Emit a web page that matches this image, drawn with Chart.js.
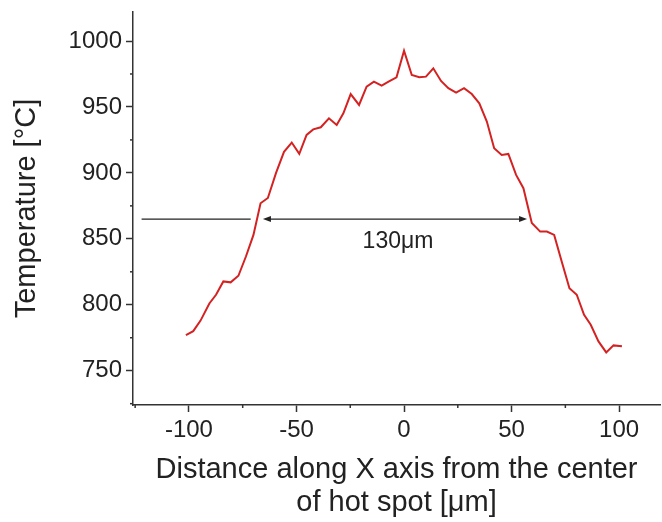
<!DOCTYPE html>
<html>
<head>
<meta charset="utf-8">
<script src="https://cdn.jsdelivr.net/npm/chart.js@4/dist/chart.umd.min.js"></script>
<style>
  html, body { margin: 0; padding: 0; background: #fff; }
  #wrap { width: 662px; height: 522px; }
</style>
</head>
<body>
<div id="wrap"><canvas id="profile"></canvas></div>
<script>
// temperature profile across the hot spot
const distance = [-101.4, -98, -94.6, -90.5, -87.4, -84, -80.6, -77, -73.5, -70,
  -66.7, -63.3, -59.5, -55.8, -52.2, -48.7, -45.3, -42.2, -38.7, -34.9,
  -31.3, -28.2, -24.8, -20.9, -17.4, -14, -10.4, -7.2, -3.5, 0,
  3.6, 7.1, 10.2, 13.6, 17.2, 20.6, 24.2, 27.9, 31.5, 35,
  38.5, 41.9, 45.4, 48.5, 52.1, 55.5, 59.4, 63.3, 66.4, 69.8,
  73.3, 76.9, 80.3, 83.7, 86.8, 90.4, 94, 97.4, 101.3];
const temperature = [777, 780, 788, 801, 807.6, 817.7, 817, 822, 836.6, 853,
  877, 881, 900, 916, 923, 914.4, 928.8, 933, 934.6, 941.4,
  936.4, 945.2, 959.8, 951.5, 965.4, 969.2, 966.2, 969.2, 972.5, 992.7,
  974.2, 972.5, 973, 979.3, 969.7, 964.2, 960.9, 964.2, 959.8, 952.8,
  938.9, 918.7, 913.6, 914.4, 898.5, 888.4, 862, 855.5, 855.5, 853,
  832.8, 812.6, 807.6, 792.4, 784.8, 772.2, 763.9, 769.2, 768.5];

// ticks: labelled every 50, small marks every 25
const xTicks = [-125, -100, -75, -50, -25, 0, 25, 50, 75, 100];
const yTicks = [725, 750, 775, 800, 825, 850, 875, 900, 925, 950, 975, 1000];

// width marker: plain line up to the curve, then a double arrow
const spanLevel = 865;
const spanLine = [-122, -71.3];
const spanArrow = [-65.6, 57.2];
const spanLabel = '130μm';
const spanLabelAt = [-2.8, 847.7];

const ink = '#222';
const axisInk = '#333';
const isMajor = v => v % 50 === 0;

const minorTicks = {
  id: 'minorTicks',
  afterDraw(chart) {
    const ctx = chart.ctx;
    const xs = chart.scales.x, ys = chart.scales.y;
    ctx.save();
    ctx.strokeStyle = axisInk;
    ctx.lineWidth = 1.5;
    xs.ticks.forEach(t => {
      if (isMajor(t.value)) return;
      const px = xs.getPixelForValue(t.value);
      ctx.beginPath();
      ctx.moveTo(px, xs.top);
      ctx.lineTo(px, xs.top + 3);
      ctx.stroke();
    });
    ys.ticks.forEach(t => {
      if (isMajor(t.value)) return;
      const py = ys.getPixelForValue(t.value);
      ctx.beginPath();
      ctx.moveTo(ys.right, py);
      ctx.lineTo(ys.right - 3, py);
      ctx.stroke();
    });
    ctx.restore();
  }
};

const widthMarker = {
  id: 'widthMarker',
  afterDatasetsDraw(chart) {
    const ctx = chart.ctx;
    const xs = chart.scales.x, ys = chart.scales.y;
    const py = ys.getPixelForValue(spanLevel);
    ctx.save();
    ctx.strokeStyle = ink;
    ctx.fillStyle = ink;
    ctx.lineWidth = 1.3;
    ctx.beginPath();
    ctx.moveTo(xs.getPixelForValue(spanLine[0]), py);
    ctx.lineTo(xs.getPixelForValue(spanLine[1]), py);
    ctx.stroke();

    const a = xs.getPixelForValue(spanArrow[0]);
    const b = xs.getPixelForValue(spanArrow[1]);
    ctx.beginPath();
    ctx.moveTo(a + 6, py);
    ctx.lineTo(b - 6, py);
    ctx.stroke();
    // arrow heads
    ctx.beginPath();
    ctx.moveTo(a, py);
    ctx.lineTo(a + 8, py - 3);
    ctx.lineTo(a + 8, py + 3);
    ctx.closePath();
    ctx.fill();
    ctx.beginPath();
    ctx.moveTo(b, py);
    ctx.lineTo(b - 8, py - 3);
    ctx.lineTo(b - 8, py + 3);
    ctx.closePath();
    ctx.fill();

    ctx.font = '23px "Liberation Sans", Arial, sans-serif';
    ctx.textAlign = 'center';
    ctx.textBaseline = 'middle';
    ctx.fillText(spanLabel, xs.getPixelForValue(spanLabelAt[0]), ys.getPixelForValue(spanLabelAt[1]));
    ctx.restore();
  }
};

const ctx = document.getElementById('profile').getContext('2d');
new Chart(ctx, {
  type: 'line',
  data: {
    datasets: [{
      data: distance.map((d, i) => ({ x: d, y: temperature[i] })),
      borderColor: '#d42222',
      borderWidth: 2,
      pointRadius: 0,
      tension: 0,
      fill: false
    }]
  },
  options: {
    responsive: true,
    maintainAspectRatio: false,
    animation: false,
    layout: { padding: { top: 12, right: 2, left: 0, bottom: 0 } },
    plugins: {
      legend: { display: false },
      tooltip: { enabled: false }
    },
    scales: {
      x: {
        type: 'linear',
        min: -126,
        max: 119,
        afterBuildTicks: s => { s.ticks = xTicks.filter(v => v >= s.min && v <= s.max).map(v => ({ value: v })); },
        afterFit: s => { s.height = 117; s.paddingLeft = 0; s.paddingRight = 0; },
        border: { display: true, color: axisInk, width: 1.5 },
        grid: {
          drawOnChartArea: false,
          tickLength: 7,
          tickWidth: 1.5,
          tickColor: c => (c.tick && isMajor(c.tick.value)) ? axisInk : 'rgba(0,0,0,0)'
        },
        ticks: {
          color: ink,
          padding: 4,
          maxRotation: 0,
          autoSkip: false,
          font: { family: '"Liberation Sans", Arial, sans-serif', size: 24 },
          callback: v => isMajor(v) ? String(v) : ''
        },
        title: {
          display: true,
          text: ['Distance along X axis from the center', 'of hot spot [μm]'],
          color: ink,
          font: { family: '"Liberation Sans", Arial, sans-serif', size: 29, lineHeight: 1.14 },
          padding: { top: 0, bottom: 2.5 }
        }
      },
      y: {
        min: 724,
        max: 1022,
        afterBuildTicks: s => { s.ticks = yTicks.map(v => ({ value: v })); },
        afterFit: s => { s.width = 133; s.paddingTop = 0; s.paddingBottom = 0; },
        border: { display: true, color: axisInk, width: 1.5 },
        grid: {
          drawOnChartArea: false,
          tickLength: 7,
          tickWidth: 1.5,
          tickColor: c => (c.tick && isMajor(c.tick.value)) ? axisInk : 'rgba(0,0,0,0)'
        },
        ticks: {
          color: ink,
          padding: 4,
          autoSkip: false,
          font: { family: '"Liberation Sans", Arial, sans-serif', size: 24 },
          callback: v => isMajor(v) ? String(v) : ''
        },
        title: {
          display: true,
          text: 'Temperature [°C]',
          color: ink,
          font: { family: '"Liberation Sans", Arial, sans-serif', size: 29, lineHeight: 1.2 },
          padding: { top: 10, bottom: 0 }
        }
      }
    }
  },
  plugins: [minorTicks, widthMarker]
});
</script>
</body>
</html>
